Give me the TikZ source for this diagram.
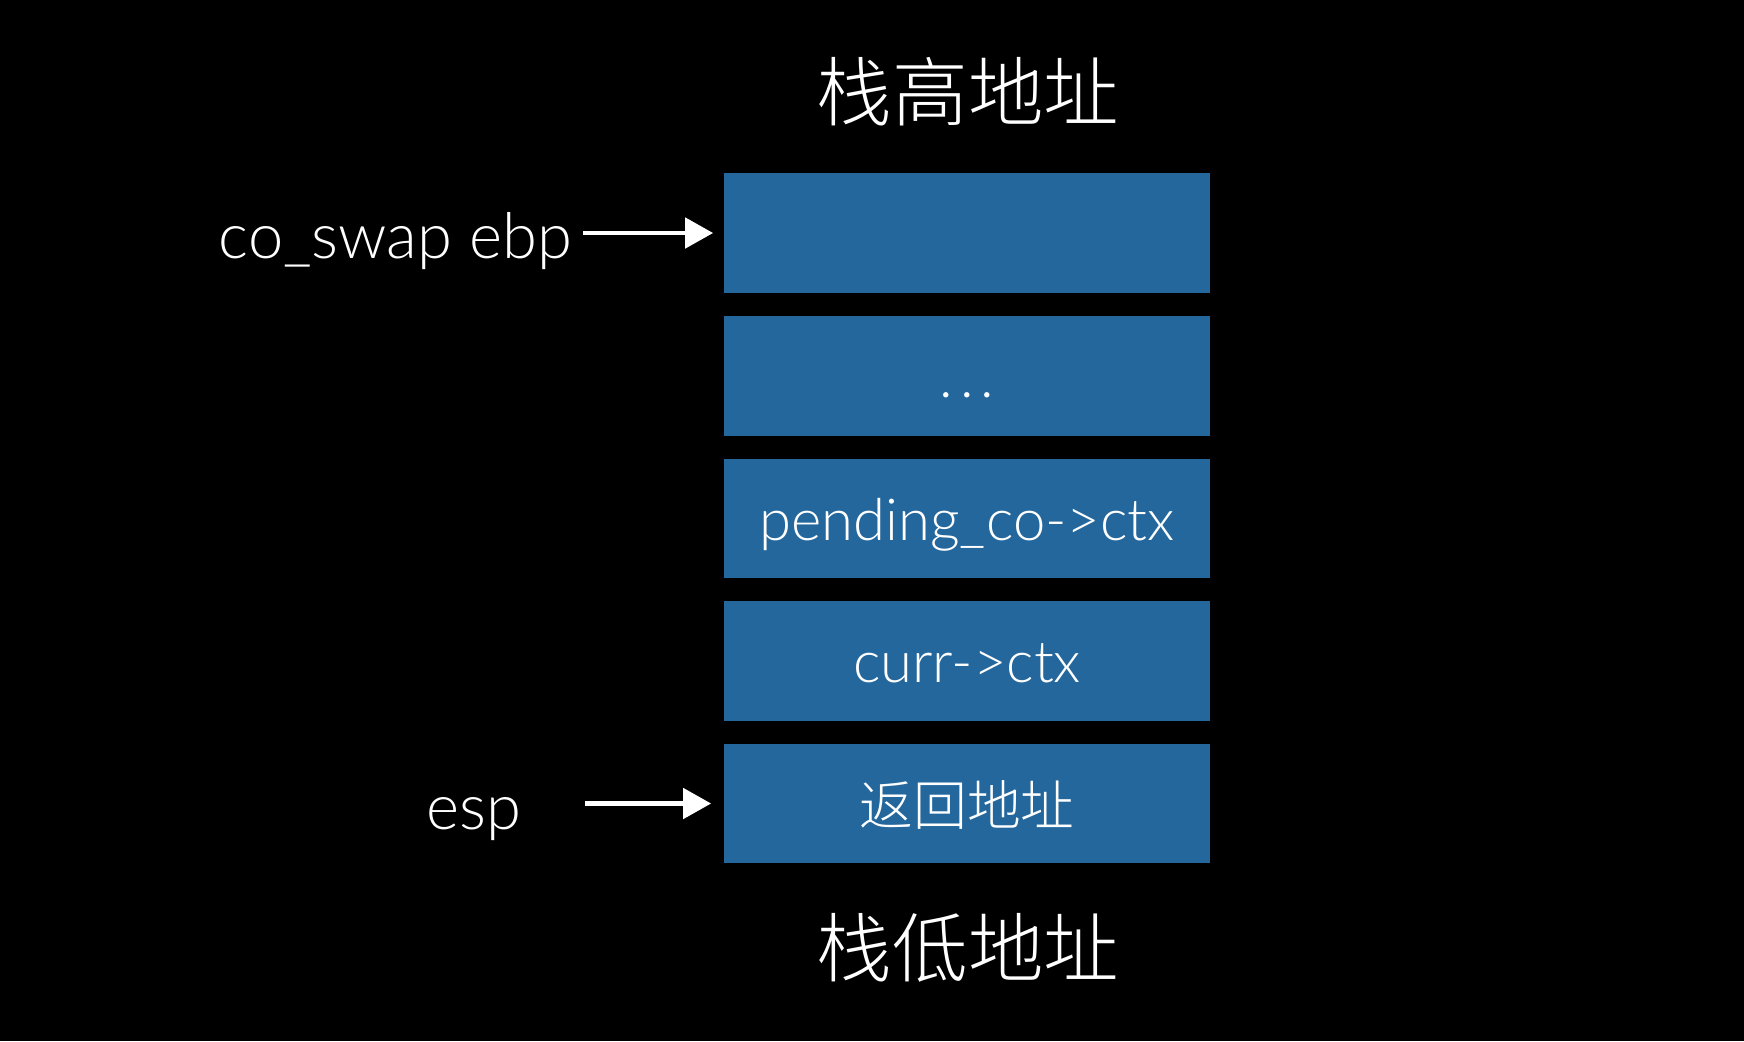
\documentclass[tikz,border=0pt]{standalone}
\usepackage{fontspec}
\setmainfont{Lato Light}
\newfontfamily\cjk{Noto Sans CJK SC Light}
\usetikzlibrary{arrows.meta}
\definecolor{slotblue}{HTML}{24679D}

\begin{document}
\begin{tikzpicture}[x=0.01cm, y=-0.01cm, >={Triangle[length=0.28cm,width=0.3cm]},
	slot/.style={fill=slotblue, minimum width=4.86cm, minimum height=1.19cm, inner sep=0pt,
		text=white, font=\fontsize{16.5}{18}\selectfont, text height=15.7pt, text depth=3.3pt},
	lbl/.style={text=white, inner sep=0pt, font=\fontsize{18}{20}\selectfont},
	bound/.style={text=white, inner sep=0pt, font=\cjk\fontsize{21.5}{24}\selectfont},
	ptr/.style={->, white, line width=1.4pt}]
	\fill[black] (0,0) rectangle (1744,1041);
	\node[bound] (high) at (968,92) {栈高地址};
	\node[slot] (slot1) at (967,233) {};
	\node[slot] (slot2) at (967,376) {.\hspace{0.12em}.\hspace{0.12em}.};
	\node[slot] (slot3) at (967,518.5) {pending\_co->ctx};
	\node[slot] (slot4) at (967,661) {curr->ctx};
	\node[slot] (slot5) at (967,803.5) {\cjk\fontsize{15.3}{18}\selectfont 返回地址};
	\node[bound] (low) at (968,948) {栈低地址};
	\node[lbl, anchor=base east] (ebp) at (573,258) {co\_swap ebp};
	\node[lbl, anchor=base east] (esp) at (522,829) {esp};
	\draw[ptr, shorten <=0.1cm, shorten >=0.1cm] (ebp.east |- slot1.west) -- (slot1.west);
	\draw[ptr, shorten <=0.63cm, shorten >=0.12cm] (esp.east |- slot5.west) -- (slot5.west);
\end{tikzpicture}
\end{document}
